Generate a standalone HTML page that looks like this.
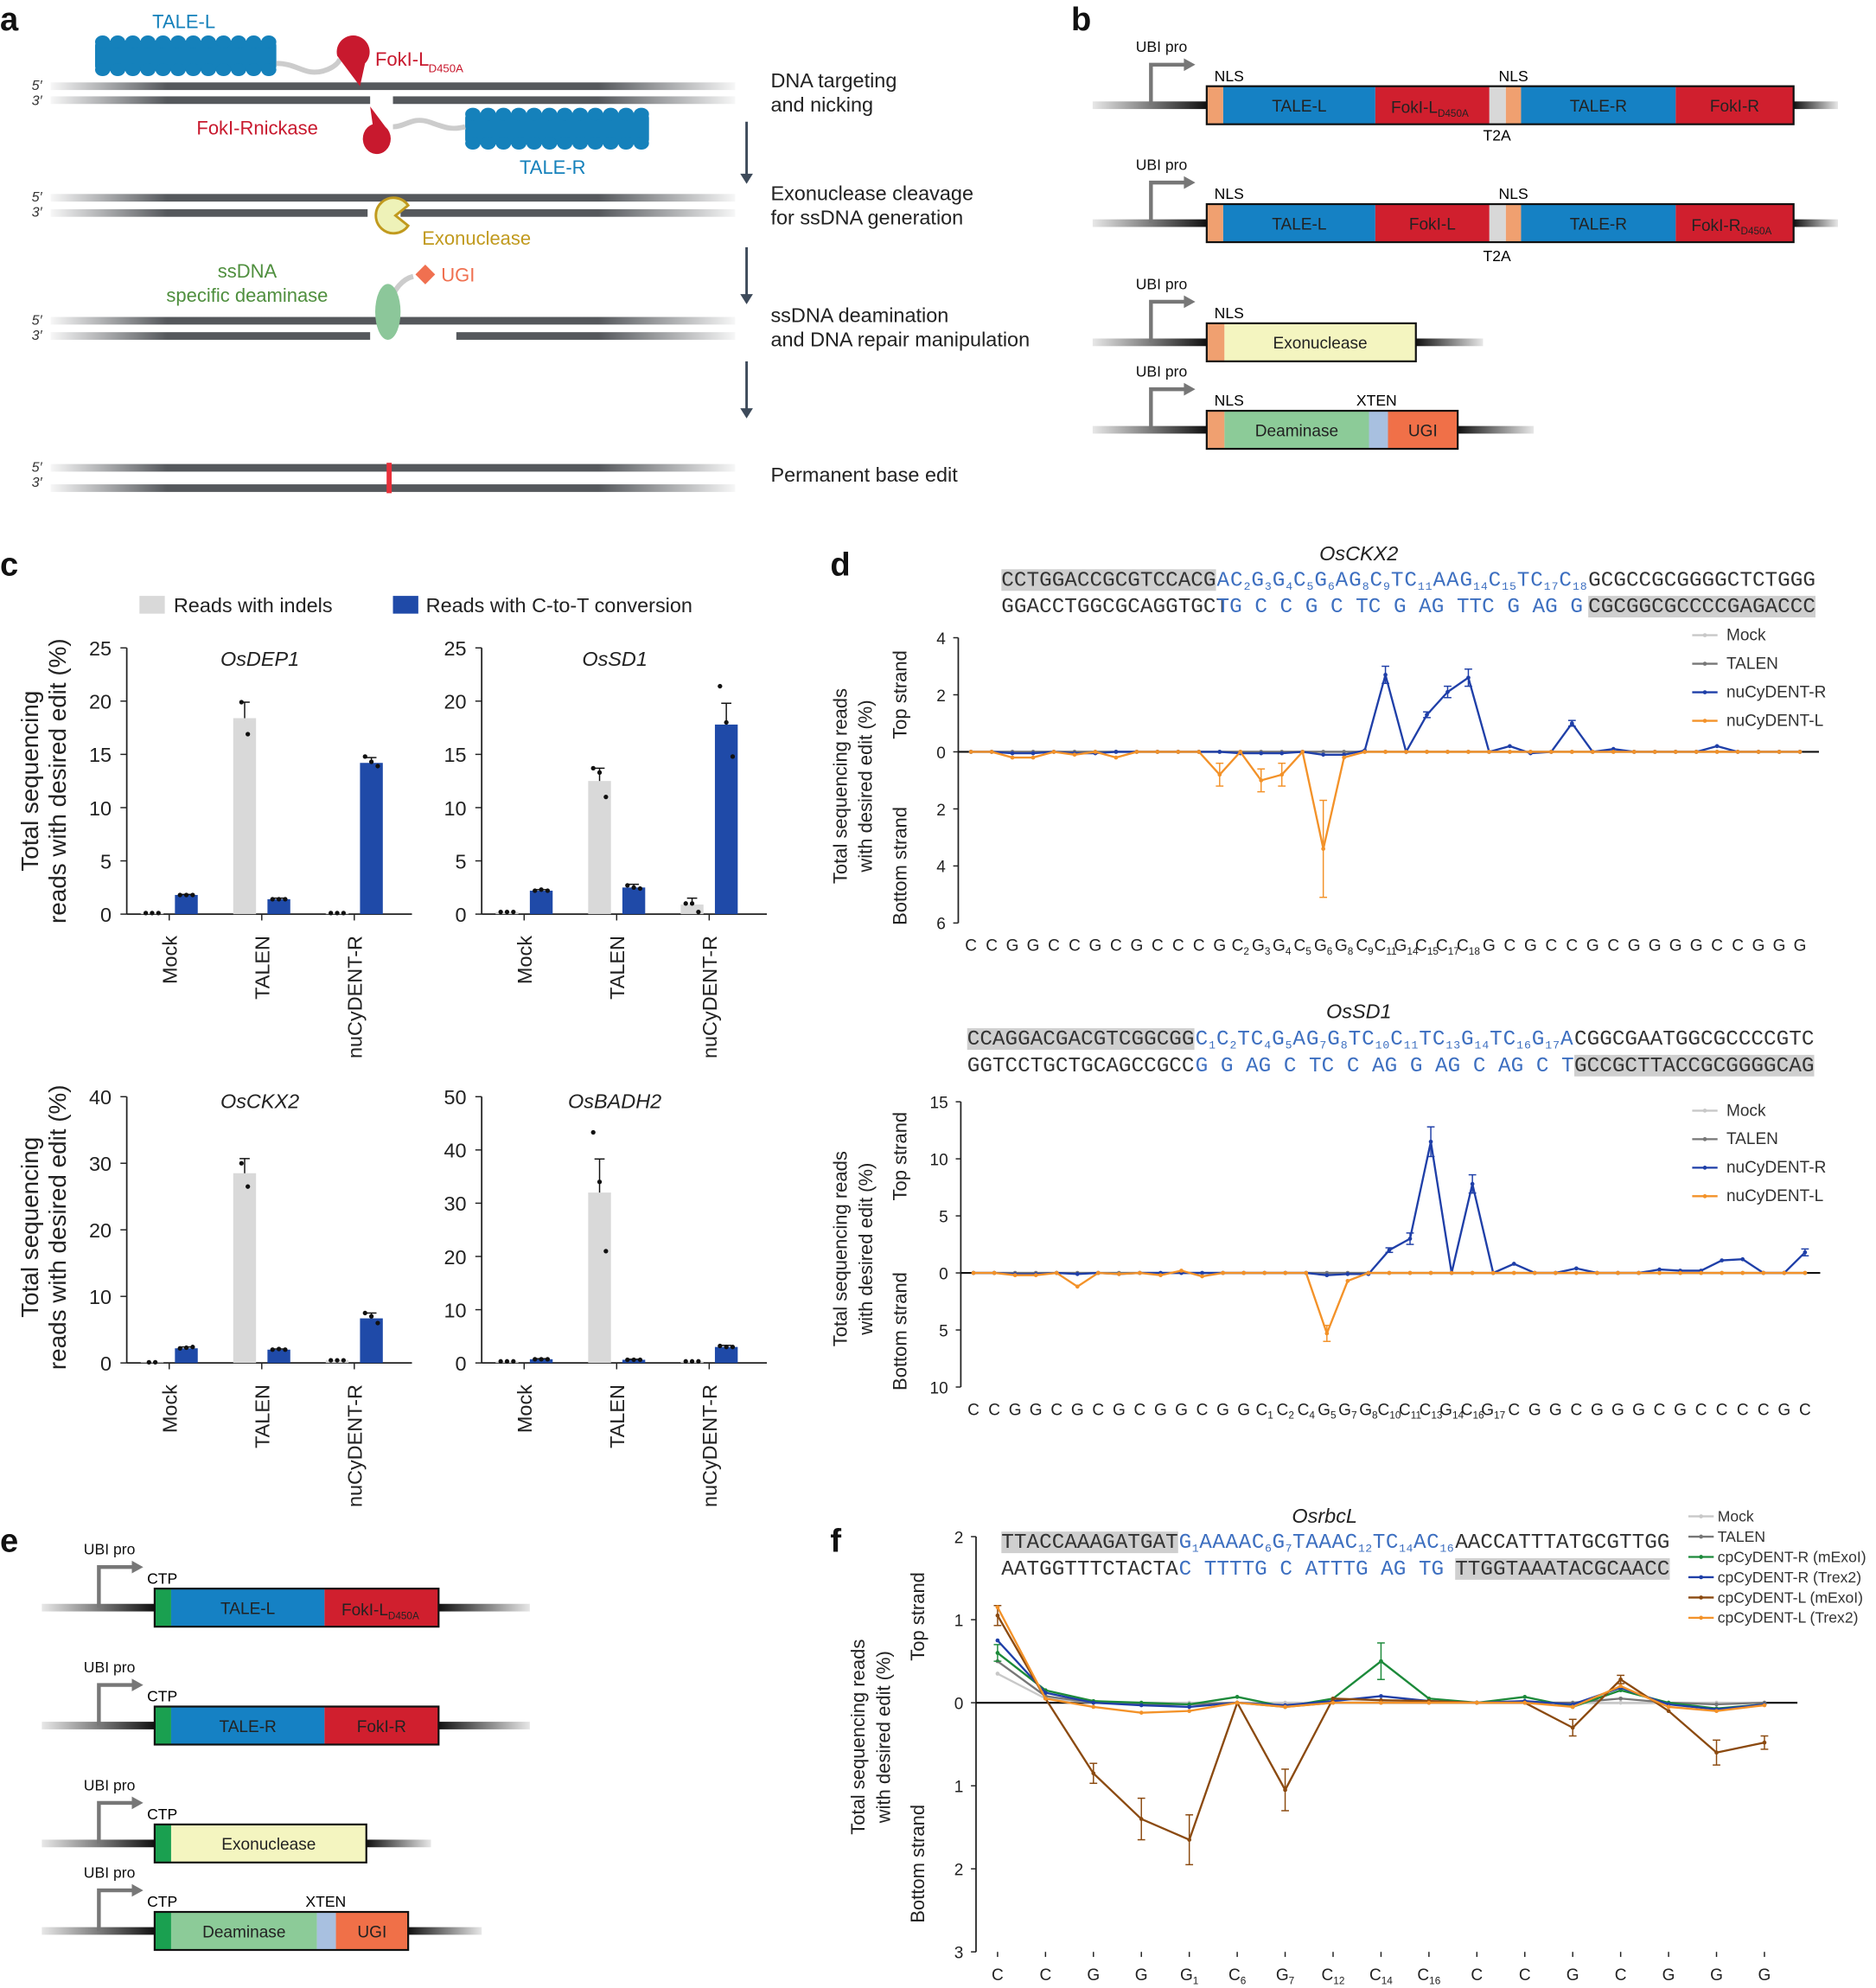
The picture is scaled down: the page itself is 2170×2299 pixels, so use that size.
<!DOCTYPE html>
<html><head><meta charset="utf-8"><style>
html,body{margin:0;padding:0;background:#fff;}
svg{display:block;font-family:"Liberation Sans",Arial,sans-serif;}
.mono{font-family:"Liberation Mono","Courier New",monospace;}
</style></head><body>
<svg id="fig" width="2170" height="2299" viewBox="0 0 1480 1568" xmlns="http://www.w3.org/2000/svg">
<defs>
<linearGradient id="strand" x1="40" x2="580" y1="0" y2="0" gradientUnits="userSpaceOnUse">
<stop offset="0" stop-color="#55585c" stop-opacity="0.05"/><stop offset="0.17" stop-color="#55585c"/><stop offset="0.8" stop-color="#55585c"/><stop offset="1" stop-color="#55585c" stop-opacity="0.05"/></linearGradient>
<linearGradient id="fadeR" x1="0" x2="1" y1="0" y2="0"><stop offset="0" stop-color="#111"/><stop offset="1" stop-color="#111" stop-opacity="0.1"/></linearGradient>
<linearGradient id="fadeL" x1="0" x2="1" y1="0" y2="0"><stop offset="0" stop-color="#111" stop-opacity="0.1"/><stop offset="1" stop-color="#111"/></linearGradient>
</defs>
<g font-weight="bold" font-size="26" fill="#111">
<text x="0" y="24">a</text>
<text x="845" y="24">b</text>
<text x="0" y="454">c</text>
<text x="655" y="454">d</text>
<text x="0" y="1224">e</text>
<text x="655" y="1224">f</text>
</g>
</svg>
<script>
const NS='http://www.w3.org/2000/svg';
const svg=document.getElementById('fig');
function el(tag,attrs,parent){const e=document.createElementNS(NS,tag);for(const k in attrs)e.setAttribute(k,attrs[k]);(parent||svg).appendChild(e);return e;}
function tx(x,y,s,attrs,parent){const e=el('text',Object.assign({x:x,y:y},attrs||{}),parent);e.textContent=s;return e;}

/* ---------- bar chart data (panel c) ---------- */
const barGenes=['OsDEP1','OsSD1','OsCKX2','OsBADH2'];
const barGroups=['Mock','TALEN','nuCyDENT-R'];
const indelVals=[[0.1,18.4,0.1],[0.2,12.5,0.9],[0.1,28.5,0.4],[0.3,32,0.3]];
const ctVals=[[1.8,1.4,14.2],[2.2,2.5,17.8],[2.2,2.0,6.7],[0.7,0.6,3.0]];
const indelErr=[[0,1.5,0],[0,1.2,0.6],[0,2.2,0],[0,6.3,0]];
const ctErr=[[0.05,0.1,0.5],[0.1,0.3,2.0],[0.2,0.1,0.8],[0.1,0.1,0.3]];
const indelDots=[[[0.1,0.1,0.1],[19.9,16.9],[0.1,0.1,0.1]],[[0.2,0.2,0.2],[13.7,13.3,11.0],[1.0,1.0,0.2]],[[0.1,0.1],[30,26.5],[0.4,0.4,0.4]],[[0.3,0.3,0.3],[43.3,34.0,21.0],[0.3,0.3,0.3]]];
const ctDots=[[[1.8,1.8,1.8],[1.4,1.4,1.4],[14.8,14.3,13.9]],[[2.2,2.3,2.2],[2.7,2.5,2.4],[21.4,18.0,14.8]],[[2.2,2.3,2.4],[2.0,2.1,2.0],[7.5,7.0,6.0]],[[0.7,0.7,0.7],[0.6,0.6,0.6],[3.2,3.0,3.0]]];
const barYMax=[25,25,40,50];
const barYStep=[5,5,10,10];

/* ---------- line chart data (panel d) ---------- */
const d1Cats=['C','C','G','G','C','C','G','C','G','C','C','C','G','C2','G3','G4','C5','G6','G8','C9','C11','G14','C15','C17','C18','G','C','G','C','C','G','C','G','G','G','G','C','C','G','G','G'];
const d1Mock=[0,0,0,0,0,0,0,0,0,0,0,0,0,0,0,0,0,0,0,0,0,0,0,0,0,0,0,0,0,0,0,0,0,0,0,0,0,0,0,0,0];
const d1Talen=[0,0,0,0,0,0,0,0,0,0,0,0,0,0,0,0,0,0,0,0,0,0,0,0,0,0,0,0,0,0,0,0,0,0,0,0,0,0,0,0,0];
const d1R=[0,0,-0.05,-0.05,0,-0.05,-0.05,0,0,0,0,0,0,-0.05,-0.05,-0.05,0,-0.1,-0.1,0.05,2.7,0,1.3,2.1,2.6,0,0.2,-0.05,0,1.0,0,0.1,0,0,0,0,0.2,0,0,0,0];
const d1L=[0,0,-0.2,-0.2,0,-0.1,0,-0.2,0,0,0,0,-0.8,0,-1.0,-0.8,0,-3.4,-0.2,0,0,0,0,0,0,0,0,0,0,0,0,0,0,0,0,0,0,0,0,0,0];
const d1Err=[0,0,0,0,0,0,0,0,0,0,0,0,0.4,0,0.4,0.4,0,1.7,0,0,0.3,0,0.1,0.2,0.3,0,0,0,0,0.1,0,0,0,0,0,0,0,0,0,0,0];
const d1Ticks=['4','2','0','2','4','6'];
const d1TickVals=[4,2,0,-2,-4,-6];

const d2Cats=['C','C','G','G','C','G','C','G','C','G','G','C','G','G','C1','C2','C4','G5','G7','G8','C10','C11','C13','G14','C16','G17','C','G','G','C','G','G','G','C','G','C','C','C','C','G','C'];
const d2Mock=d1Mock.slice();
const d2Talen=d1Talen.slice();
const d2R=[0,0,-0.1,-0.1,0,-0.1,0,-0.1,0,0,0,0,0,0,0,0,0,-0.2,-0.1,-0.1,2.0,3.0,11.5,0,7.8,0,0.8,0,0,0.4,0,0,0,0.3,0.2,0.2,1.1,1.2,0,0,1.8];
const d2L=[0,0,-0.2,-0.2,0,-1.2,0,-0.1,0,-0.2,0.2,-0.3,0,0,0,0,0,-5.3,-0.7,0,0,0,0,0,0,0,0,0,0,0,0,0,0,0,0,0,0,0,0,0,0];
const d2Err=[0,0,0,0,0,0,0,0,0,0,0,0,0,0,0,0,0,0.7,0,0,0.2,0.5,1.3,0,0.8,0,0,0,0,0,0,0,0,0,0,0,0,0,0,0,0.3];
const d2Ticks=['15','10','5','0','5','10'];
const d2TickVals=[15,10,5,0,-5,-10];

/* ---------- line chart data (panel f) ---------- */
const fCats=['C','C','G','G','G1','C6','G7','C12','C14','C16','C','C','G','C','G','G','G'];
const fMock=[0.35,0.05,0,0,0,0,0,0,0,0,0,0,0,0,0,0,0];
const fTalen=[0.5,0.08,0,-0.02,-0.02,0,-0.05,0,0,0,0,0,0,0.05,0,-0.02,0];
const fRm=[0.6,0.15,0.02,0,-0.02,0.07,-0.05,0.05,0.5,0.05,0,0.07,-0.05,0.15,0,-0.07,-0.02];
const fRt=[0.75,0.12,0,-0.03,-0.05,0,-0.03,0.02,0.08,0.02,0,0.02,-0.02,0.18,-0.02,-0.08,-0.02];
const fLm=[1.05,0.05,-0.85,-1.4,-1.65,0,-1.05,0.05,0.03,0.02,0,0,-0.3,0.28,-0.1,-0.6,-0.48];
const fLt=[1.15,0.05,-0.05,-0.12,-0.1,0,-0.05,0,0,0,0,0,-0.05,0.2,-0.05,-0.1,-0.03];
const fErrLm=[0.12,0,0.12,0.25,0.3,0,0.25,0,0,0,0,0,0.1,0.05,0,0.15,0.08];
const fErrRm=[0.1,0,0,0,0,0,0,0,0.22,0,0,0,0,0,0,0,0];
const fTicks=['2','1','0','1','2','3'];
const fTickVals=[2,1,0,-1,-2,-3];

/* ================= panel a ================= */
function strand(x1,x2,y,name){const r=el('rect',{x:x1,y:y-3,width:x2-x1,height:6,fill:'url(#strand)'});

}
function ends(y){tx(25,y+3,"5\u2032",{'font-size':11,'font-style':'italic',fill:'#333'});tx(25,y+15,"3\u2032",{'font-size':11,'font-style':'italic',fill:'#333'});}
function beads(x,y,w,h,n,name){const g=el('g',{fill:'#1581bb'});


el('rect',{x:x,y:y+4,width:w,height:h-8,rx:4},g);const bw=w/n;for(let i=0;i<n;i++){el('ellipse',{cx:x+bw*(i+0.5),cy:y+5,rx:bw/2,ry:5},g);el('ellipse',{cx:x+bw*(i+0.5),cy:y+h-5,rx:bw/2,ry:5},g);}}
strand(40,580,68,'top-strand-1');strand(40,292,79,'bottom-strand-1a');strand(310,580,79,'bottom-strand-1b');ends(68);
beads(75,28,143,32,12,'tale-l-protein');
el('path',{d:'M218 50 C235 50 240 60 255 56 C265 53 268 48 268 46',stroke:'#ccc','stroke-width':4,fill:'none'});
el('path',{d:'M266 44 a13 13 0 1 1 22 6 l-4 18 z',fill:'#c8192e'});
tx(296,52,'FokI-L',{'font-size':15,fill:'#c8192e'});tx(338,57,'D450A',{'font-size':9,fill:'#c8192e'});
tx(145,22,'TALE-L',{'font-size':15,fill:'#1581bb','text-anchor':'middle'});
beads(367,85,145,33,12,'tale-r-protein');
el('path',{d:'M310 100 C320 100 325 92 338 96 C350 100 355 103 367 100',stroke:'#ccc','stroke-width':4,fill:'none'});
el('path',{d:'M292 84 l12 16 a11 12 0 1 1 -10 -2 z',fill:'#c8192e'});
tx(203,106,'FokI-Rnickase',{'font-size':15,fill:'#c8192e','text-anchor':'middle'});
tx(436,137,'TALE-R',{'font-size':15,fill:'#1581bb','text-anchor':'middle'});
strand(40,580,156,'top-strand-2');strand(40,290,168,'bottom-strand-2a');strand(316,580,168,'bottom-strand-2b');ends(156);
el('path',{d:'M322 162 L312 170 L322 178 A14 14 0 1 1 322 162 Z',fill:'#eef2b8',stroke:'#c19a1e','stroke-width':2});
tx(333,193,'Exonuclease',{'font-size':15,fill:'#c19a1e'});
strand(40,580,253,'top-strand-3');strand(40,292,265,'bottom-strand-3a');strand(360,580,265,'bottom-strand-3b');ends(253);
el('path',{d:'M308 240 C310 228 318 220 326 218',stroke:'#ccc','stroke-width':4,fill:'none'});
el('ellipse',{cx:306,cy:246,rx:10,ry:22,fill:'#8cc79a'});
el('rect',{x:330,y:211,width:11,height:11,fill:'#f07050',transform:'rotate(45 335.5 216.5)'});
tx(348,222,'UGI',{'font-size':15,fill:'#f07050'});
tx(195,219,'ssDNA',{'font-size':15,fill:'#4f8f3e','text-anchor':'middle'});
tx(195,238,'specific deaminase',{'font-size':15,fill:'#4f8f3e','text-anchor':'middle'});
strand(40,580,369,'top-strand-4');strand(40,580,385,'bottom-strand-4');ends(369);
el('rect',{x:305,y:365,width:4,height:24,fill:'#e8303a'});
[[96,145],[195,240],[285,330]].forEach((a,i)=>{const g=el('g',{});


el('line',{x1:589,y1:a[0],x2:589,y2:a[1]-6,stroke:'#3d4a5a','stroke-width':2},g);el('path',{d:`M584 ${a[1]-8} L589 ${a[1]} L594 ${a[1]-8} Z`,fill:'#3d4a5a'},g);});
[['DNA targeting',69],['and nicking',88],['Exonuclease cleavage',158],['for ssDNA generation',177],['ssDNA deamination',254],['and DNA repair manipulation',273],['Permanent base edit',380]].forEach(t=>tx(608,t[1],t[0],{'font-size':16,fill:'#222'}));

/* ================= constructs (b, e) ================= */
function construct(y,lx1,lx2,px,parts,name){
 const g=el('g',{});
 
 
 const h=30,cy=y+h/2;
 el('rect',{x:lx1,y:cy-3,width:parts[0][0]-lx1,height:6,fill:'url(#fadeL)'},g);
 el('rect',{x:parts[parts.length-1][1],y:cy-3,width:lx2-parts[parts.length-1][1],height:6,fill:'url(#fadeR)'},g);
 el('path',{d:`M${px} ${cy} V${y-17} H${px+28}`,stroke:'#777','stroke-width':3,fill:'none'},g);
 el('path',{d:`M${px+26} ${y-22} L${px+35} ${y-17} L${px+26} ${y-12} Z`,fill:'#777'},g);
 tx(px-12,y-27,'UBI pro',{'font-size':12,fill:'#111'},g);
 parts.forEach(p=>{el('rect',{x:p[0],y:y,width:p[1]-p[0],height:h,fill:p[2]},g);if(p[3])tx((p[0]+p[1])/2,cy+5,p[3],{'font-size':13,fill:'#222','text-anchor':'middle'},g);});
 el('rect',{x:parts[0][0],y:y,width:parts[parts.length-1][1]-parts[0][0],height:h,fill:'none',stroke:'#111','stroke-width':1.5},g);
 return g;}
const BL='#1581c4',RD='#d01f2e',OR='#f0a070',GY='#d8d8d8',YL='#f4f5c0',GN='#8ccb98',LB='#a8c0e0',UG='#f07048',CT='#1aa050';
function sub(g,x,y,main,s,fill){const t=tx(x,y,main,{'font-size':13,fill:fill||'#222','text-anchor':'middle'},g);const ts=el('tspan',{'font-size':8,dy:3},t);ts.textContent=s;}
let g;
g=construct(68,862,1450,908,[[952,965,OR],[965,1085,BL,'TALE-L'],[1085,1175,RD],[1175,1188,GY],[1188,1200,OR],[1200,1322,BL,'TALE-R'],[1322,1415,RD,'FokI-R']],'construct-b1');
sub(g,1128,89,'FokI-L','D450A');tx(958,64,'NLS',{'font-size':12},g);tx(1194,64,'NLS',{'font-size':12,'text-anchor':'middle'},g);tx(1181,111,'T2A',{'font-size':12,'text-anchor':'middle'},g);
g=construct(161,862,1450,908,[[952,965,OR],[965,1085,BL,'TALE-L'],[1085,1175,RD,'FokI-L'],[1175,1188,GY],[1188,1200,OR],[1200,1322,BL,'TALE-R'],[1322,1415,RD]],'construct-b2');
sub(g,1366,182,'FokI-R','D450A');tx(958,157,'NLS',{'font-size':12},g);tx(1194,157,'NLS',{'font-size':12,'text-anchor':'middle'},g);tx(1181,206,'T2A',{'font-size':12,'text-anchor':'middle'},g);
g=construct(255,862,1170,908,[[952,966,OR],[966,1117,YL,'Exonuclease']],'construct-b3');tx(958,251,'NLS',{'font-size':12},g);
g=construct(324,862,1210,908,[[952,966,OR],[966,1080,GN,'Deaminase'],[1080,1095,LB],[1095,1150,UG,'UGI']],'construct-b4');tx(958,320,'NLS',{'font-size':12},g);tx(1086,320,'XTEN',{'font-size':12,'text-anchor':'middle'},g);
g=construct(1253,33,418,78,[[122,135,CT],[135,256,BL,'TALE-L'],[256,346,RD]],'construct-e1');sub(g,300,1274,'FokI-L','D450A');tx(128,1249,'CTP',{'font-size':12,'text-anchor':'middle'},g);
g=construct(1346,33,418,78,[[122,135,CT],[135,256,BL,'TALE-R'],[256,346,RD,'FokI-R']],'construct-e2');tx(128,1342,'CTP',{'font-size':12,'text-anchor':'middle'},g);
g=construct(1439,33,340,78,[[122,135,CT],[135,289,YL,'Exonuclease']],'construct-e3');tx(128,1435,'CTP',{'font-size':12,'text-anchor':'middle'},g);
g=construct(1508,33,380,78,[[122,135,CT],[135,250,GN,'Deaminase'],[250,265,LB],[265,322,UG,'UGI']],'construct-e4');tx(128,1504,'CTP',{'font-size':12,'text-anchor':'middle'},g);tx(257,1504,'XTEN',{'font-size':12,'text-anchor':'middle'},g);

/* ================= panel c bar charts ================= */
const lg=el('g',{});


el('rect',{x:110,y:470,width:20,height:14,fill:'#d9d9d9'},lg);tx(137,483,'Reads with indels',{'font-size':16,fill:'#222'},lg);
el('rect',{x:310,y:470,width:20,height:14,fill:'#1f4aa8'},lg);tx(336,483,'Reads with C-to-T conversion',{'font-size':16,fill:'#222'},lg);
const barFrames=[[100,721,511],[380,721,511],[100,1075,865],[380,1075,865]];
barGenes.forEach((gene,ci)=>{
 const [x0,y0,y1]=barFrames[ci];const ys=v=>y0-(v/barYMax[ci])*(y0-y1);
 const cg=el('g',{});
 
 
 el('line',{x1:x0,y1:y1,x2:x0,y2:y0,stroke:'#222','stroke-width':1.2},cg);
 el('line',{x1:x0,y1:y0,x2:x0+225,y2:y0,stroke:'#222','stroke-width':1.2},cg);
 for(let v=0;v<=barYMax[ci];v+=barYStep[ci]){el('line',{x1:x0-5,y1:ys(v),x2:x0,y2:ys(v),stroke:'#222'},cg);tx(x0-12,ys(v)+6,String(v),{'font-size':16,fill:'#222','text-anchor':'end'},cg);}
 const tt=tx(x0+105,y1+(ci<2?14:9),gene,{'font-size':16,'font-style':'italic',fill:'#222','text-anchor':'middle'},cg);
 
 barGroups.forEach((grp,gi)=>{
  const cx=x0+33.5+gi*73;
  el('line',{x1:cx,y1:y0,x2:cx,y2:y0+5,stroke:'#222'},cg);
  tx(cx+6,y0+17,grp,{'font-size':16,fill:'#222','text-anchor':'end',transform:`rotate(-90 ${cx+6} ${y0+17})`},cg);
  [[indelVals,indelErr,indelDots,'#d9d9d9',-13.5],[ctVals,ctErr,ctDots,'#1f4aa8',13.5]].forEach(s=>{
   const v=s[0][ci][gi],e=s[1][ci][gi],bx=cx+s[4];
   const b=el('rect',{x:bx-9,y:ys(v),width:18,height:y0-ys(v),fill:s[3]},cg);
   
   
   if(e>0){el('line',{x1:bx,y1:ys(v),x2:bx,y2:ys(v+e),stroke:'#111'},cg);el('line',{x1:bx-4,y1:ys(v+e),x2:bx+4,y2:ys(v+e),stroke:'#111'},cg);}
   const ds=s[2][ci][gi];ds.forEach((d,k)=>el('circle',{cx:bx+(ds.length>1?(k-(ds.length-1)/2)*5:0),cy:ys(d),r:1.8,fill:'#111'},cg));
  });
 });
});
[[616],[968]].forEach((c,i)=>{const cy=c[0];
 const a=tx(30,cy,'Total sequencing',{'font-size':19,fill:'#222','text-anchor':'middle',transform:`rotate(-90 30 ${cy})`});
 
 tx(52,cy,'reads with desired edit (%)',{'font-size':19,fill:'#222','text-anchor':'middle',transform:`rotate(-90 52 ${cy})`});});

/* ================= sequences ================= */
const SFS=16.6;
function seq(x,y,s,fill,box,len){const n=s.replace(/\d/g,'').length;
 if(box)el('rect',{x:x,y:y-13,width:n*SFS*0.6,height:17,fill:'#cfcfcf'});
 const at={x:x,y:y,'font-size':SFS,fill:fill,class:'mono'};
 if(len){at.textLength=len;at.lengthAdjust='spacing';}
 const t=el('text',at);
 const parts=s.split(/(\d+)/);let prevSub=false;
 parts.forEach((p,i)=>{if(!p)return;const isSub=i%2===1;const a=isSub?{'font-size':9,dy:3}:{'font-size':SFS,dy:prevSub?-3:0};const ts=el('tspan',a,t);ts.textContent=p;prevSub=isSub;});
 return t;}
const BLU='#3d6fc0';
seq(790,462,'CCTGGACCGCGTCCACG','#333',1);seq(960,462,'AC2G3G4C5G6AG8C9TC11AAG14C15TC17C18',BLU,0,292);seq(1253,462,'GCGCCGCGGGGCTCTGGG','#333');
seq(790,483,'GGACCTGGCGCAGGTGCT','#333');seq(960,483,'TG C C G C TC G AG TTC G AG G',BLU);seq(1253,483,'CGCGGCGCCCCGAGACCC','#333',1);
seq(763,824,'CCAGGACGACGTCGGCGG','#333',1);seq(943,824,'C1C2TC4G5AG7G8TC10C11TC13G14TC16G17A',BLU,0,298);seq(1242,824,'CGGCGAATGGCGCCCCGTC','#333');
seq(763,845,'GGTCCTGCTGCAGCCGCC','#333');seq(943,845,'G G AG C TC C AG G AG C AG C T',BLU);seq(1242,845,'GCCGCTTACCGCGGGGCAG','#333',1);
seq(790,1221,'TTACCAAAGATGAT','#333',1);seq(930,1221,'G1AAAAC6G7TAAAC12TC14AC16',BLU,0,217);seq(1148,1221,'AACCATTTATGCGTTGG','#333');
seq(790,1242,'AATGGTTTCTACTA','#333');seq(930,1242,'C TTTTG C ATTTG AG TG',BLU);seq(1148,1242,'TTGGTAAATACGCAACC','#333',1);

/* ================= line charts ================= */
function lineChart(o){
 const cg=el('g',{});
 
 
 const xs=i=>o.xa+i*(o.xb-o.xa)/(o.cats.length-1);
 const ys=v=>o.y0-v*o.k;
 el('line',{x1:o.ax,y1:ys(o.tv[0]),x2:o.ax,y2:ys(o.tv[o.tv.length-1]),stroke:'#222','stroke-width':1.2},cg);
 el('line',{x1:o.ax,y1:o.y0,x2:o.xe,y2:o.y0,stroke:'#111','stroke-width':1.5},cg);
 o.tv.forEach((v,i)=>{el('line',{x1:o.ax-4,y1:ys(v),x2:o.ax,y2:ys(v),stroke:'#222'},cg);tx(o.ax-10,ys(v)+5,o.tl[i],{'font-size':o.fs,fill:'#222','text-anchor':'end'},cg);});
 o.cats.forEach((c,i)=>{const m=c.match(/^([A-Z])(\d*)$/);const t=tx(xs(i),o.ly,m[1],{'font-size':o.fs,fill:'#222','text-anchor':'middle'},cg);if(m[2]){const s=el('tspan',{'font-size':o.fs*0.62,dy:3},t);s.textContent=m[2];}
  if(o.tickX){el('line',{x1:xs(i),y1:ys(o.tv[o.tv.length-1]),x2:xs(i),y2:ys(o.tv[o.tv.length-1])+4,stroke:'#222'},cg);}});
 o.series.forEach(s=>{
  const p=s.v.map((v,i)=>`${i?'L':'M'}${xs(i).toFixed(1)} ${ys(v).toFixed(1)}`).join(' ');
  const pl=el('path',{d:p,fill:'none',stroke:s.c,'stroke-width':1.6},cg);
  
  
  s.v.forEach((v,i)=>{el('circle',{cx:xs(i),cy:ys(v),r:1.6,fill:s.c},cg);
   if(s.e&&s.e[i]>0){const sg=v>=0?1:-1;const y2=ys(v+sg*s.e[i]),y3=ys(v-sg*s.e[i]);el('line',{x1:xs(i),y1:y3,x2:xs(i),y2:y2,stroke:s.c},cg);el('line',{x1:xs(i)-3,y1:y2,x2:xs(i)+3,y2:y2,stroke:s.c},cg);el('line',{x1:xs(i)-3,y1:y3,x2:xs(i)+3,y2:y3,stroke:s.c},cg);}});
 });
 o.series.forEach((s,i)=>{const yy=o.legY+i*o.legDy;el('line',{x1:o.legX,y1:yy,x2:o.legX+20,y2:yy,stroke:s.c,'stroke-width':1.6},cg);el('circle',{cx:o.legX+10,cy:yy,r:1.6,fill:s.c},cg);
  const lt=tx(o.legX+o.legGap,yy+4,s.n,{'font-size':o.legFs,fill:'#333'},cg);
  });
 tx(o.tx,o.ty,o.title,{'font-size':16,'font-style':'italic',fill:'#222','text-anchor':'middle'},cg);
 const yc=o.yc;
 tx(o.t1x,yc,'Total sequencing reads',{'font-size':15,fill:'#222','text-anchor':'middle',transform:`rotate(-90 ${o.t1x} ${yc})`},cg);
 tx(o.t1x+20,yc,'with desired edit (%)',{'font-size':15,fill:'#222','text-anchor':'middle',transform:`rotate(-90 ${o.t1x+20} ${yc})`},cg);
 tx(o.t1x+47,o.topY,'Top strand',{'font-size':15,fill:'#222','text-anchor':'middle',transform:`rotate(-90 ${o.t1x+47} ${o.topY})`},cg);
 tx(o.t1x+47,o.botY,'Bottom strand',{'font-size':15,fill:'#222','text-anchor':'middle',transform:`rotate(-90 ${o.t1x+47} ${o.botY})`},cg);
}
lineChart({name:'line-chart-oscckx2',cats:d1Cats,xa:766,xb:1420,ax:756,xe:1435,y0:593,k:22.5,tv:d1TickVals,tl:d1Ticks,fs:13,ly:750,
 series:[{n:'Mock',v:d1Mock,c:'#c8c8c8'},{n:'TALEN',v:d1Talen,c:'#777'},{n:'nuCyDENT-R',v:d1R,c:'#1f3fa8',e:d1R.map((v,i)=>v>0?d1Err[i]:0)},{n:'nuCyDENT-L',v:d1L,c:'#f39229',e:d1L.map((v,i)=>v<0?d1Err[i]:0)}],
 legX:1335,legY:501,legDy:22.5,legFs:13,legGap:27,title:'OsCKX2',tx:1072,ty:442,t1x:668,yc:620,topY:548,botY:683});
lineChart({name:'line-chart-ossd1',cats:d2Cats,xa:768,xb:1424,ax:758,xe:1436,y0:1004,k:9,tv:d2TickVals,tl:d2Ticks,fs:13,ly:1116,
 series:[{n:'Mock',v:d2Mock,c:'#c8c8c8'},{n:'TALEN',v:d2Talen,c:'#777'},{n:'nuCyDENT-R',v:d2R,c:'#1f3fa8',e:d2R.map((v,i)=>v>0?d2Err[i]:0)},{n:'nuCyDENT-L',v:d2L,c:'#f39229',e:d2L.map((v,i)=>v<0?d2Err[i]:0)}],
 legX:1335,legY:876,legDy:22.5,legFs:13,legGap:27,title:'OsSD1',tx:1072,ty:803,t1x:668,yc:985,topY:912,botY:1050});
lineChart({name:'line-chart-osrbcl',cats:fCats,xa:787,xb:1392,ax:770,xe:1418,y0:1343,k:65.5,tv:fTickVals,tl:fTicks,fs:13,ly:1562,tickX:true,
 series:[{n:'Mock',v:fMock,c:'#c8c8c8'},{n:'TALEN',v:fTalen,c:'#777'},{n:'cpCyDENT-R (mExoI)',v:fRm,c:'#1c8a3a',e:fErrRm},{n:'cpCyDENT-R (Trex2)',v:fRt,c:'#1f3fa8'},{n:'cpCyDENT-L (mExoI)',v:fLm,c:'#8b4a10',e:fErrLm},{n:'cpCyDENT-L (Trex2)',v:fLt,c:'#f39229'}],
 legX:1332,legY:1196,legDy:16,legFs:12,legGap:23,title:'OsrbcL',tx:1045,ty:1201,t1x:682,yc:1370,topY:1275,botY:1470});
</script>
</body></html>
